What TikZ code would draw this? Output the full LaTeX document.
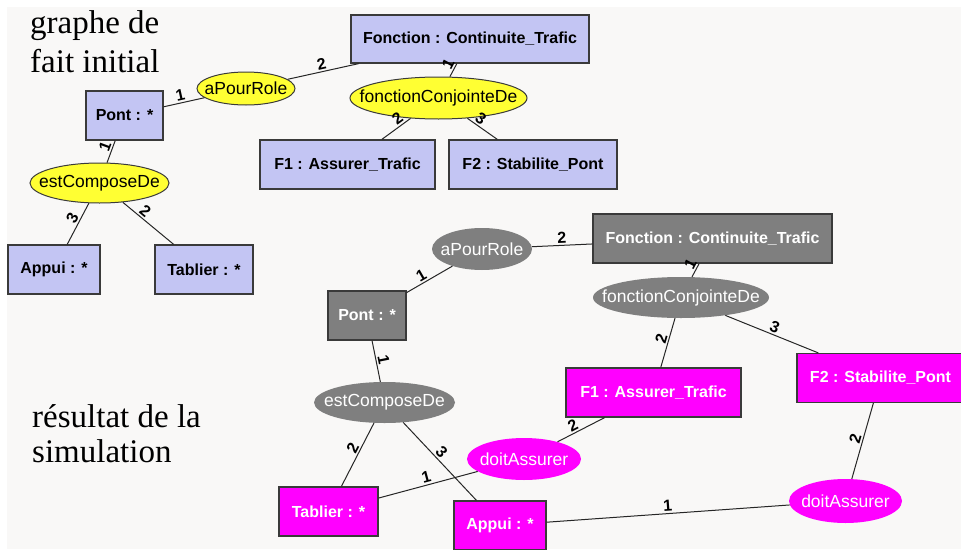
\documentclass[tikz,border=0pt]{standalone}
\usepackage{fontspec}
\setmainfont{Liberation Serif}
\newfontfamily\arialf{Liberation Sans}
\usetikzlibrary{shapes.geometric}
\definecolor{bgc}{HTML}{F9F8F7}
\definecolor{lav}{HTML}{C3C5F3}
\definecolor{bord}{HTML}{3A3A3A}
\definecolor{gry}{HTML}{7F7F7F}
\definecolor{mag}{HTML}{FF00FF}
\definecolor{yel}{HTML}{FFFF33}
\newcommand\ztext[1]{\makebox[0pt]{#1}}
\tikzset{
 boxbase/.style={rectangle, draw=bord, line width=1.2pt, inner sep=0pt, font=\arialf\bfseries\fontsize{16}{18}\selectfont},
 lavbox/.style={boxbase, fill=lav, text=black},
 grybox/.style={boxbase, fill=gry, text=white},
 magbox/.style={boxbase, fill=mag, text=white},
 ellbase/.style={ellipse, inner sep=0pt, font=\arialf\fontsize{17.5}{19}\selectfont},
 yelell/.style={ellbase, fill=yel, draw=bord, line width=1pt, text=black},
 gryell/.style={ellbase, fill=gry, text=white},
 magell/.style={ellbase, fill=mag, text=white},
 conn/.style={draw=black!85, line width=1pt},
 lbl/.style={font=\arialf\bfseries\fontsize{16}{17}\selectfont, inner sep=1.5pt, sloped, above},
 title/.style={font=\fontsize{33}{39}\selectfont, anchor=base west, inner sep=0pt},
}
\begin{document}
\begin{tikzpicture}[x=1pt,y=-1pt]
\clip (0,0) rectangle (961,549);
\fill[white] (0,0) rectangle (961,549);
\fill[bgc] (7,7) rectangle (961,549);
% titles
\node[title] (t1) at (30,33) {graphe de};
\node[title] (t2) at (30,72) {fait initial};
\node[title] (t3) at (32,427) {résultat de la};
\node[title] (t4) at (32,462) {simulation};
% top graph
\node[lavbox, minimum width=77pt, minimum height=49pt] (tPont) at (124.5,115.5) {Pont : *};
\node[yelell, minimum width=98pt, minimum height=33pt] (tApr) at (246,88.5) {\ztext{aPourRole}};
\node[lavbox, minimum width=238pt, minimum height=48pt] (tFonc) at (470,39) {Fonction : Continuite\_Trafic};
\node[yelell, minimum width=177pt, minimum height=42pt] (tFcj) at (438.5,98) {\ztext{fonctionConjointeDe}};
\node[lavbox, minimum width=175pt, minimum height=49pt] (tF1) at (347.5,164.5) {F1 : Assurer\_Trafic};
\node[lavbox, minimum width=168pt, minimum height=49pt] (tF2) at (533,164.5) {F2 : Stabilite\_Pont};
\node[yelell, minimum width=139pt, minimum height=40pt] (tEcd) at (99.5,183) {\ztext{estComposeDe}};
\node[lavbox, minimum width=92pt, minimum height=49pt] (tAppui) at (54,269.5) {Appui : *};
\node[lavbox, minimum width=98pt, minimum height=49pt] (tTablier) at (204,269.5) {Tablier : *};
\draw[conn] (tPont) -- node[lbl, pos=0.45] {1} (tApr);
\draw[conn] (tApr) -- node[lbl, pos=0.5] {2} (tFonc);
\draw[conn] (tFcj) -- node[lbl, pos=0.7] {1} (tFonc);
\draw[conn] (tFcj) -- node[lbl, pos=0.3] {2} (tF1);
\draw[conn] (tFcj) -- node[lbl, pos=0.3] {3} (tF2);
\draw[conn] (tEcd) -- node[lbl, pos=0.6] {1} (tPont);
\draw[conn] (tEcd) -- node[lbl, pos=0.45] {3} (tAppui);
\draw[conn] (tEcd) -- node[lbl, pos=0.35] {2} (tTablier);
% bottom graph
\node[gryell, minimum width=100pt, minimum height=42pt] (bApr) at (482,249) {\ztext{aPourRole}};
\node[grybox, minimum width=239pt, minimum height=49pt] (bFonc) at (712.5,238.5) {Fonction : Continuite\_Trafic};
\node[grybox, minimum width=78pt, minimum height=49pt] (bPont) at (367,315.5) {Pont : *};
\node[gryell, minimum width=176pt, minimum height=41pt] (bFcj) at (681,297.5) {\ztext{fonctionConjointeDe}};
\node[magbox, minimum width=175pt, minimum height=49pt] (bF1) at (653.5,392.5) {F1 : Assurer\_Trafic};
\node[magbox, minimum width=167pt, minimum height=49pt] (bF2) at (880.5,378) {F2 : Stabilite\_Pont};
\node[gryell, minimum width=141pt, minimum height=41pt] (bEcd) at (384.5,402.5) {\ztext{estComposeDe}};
\node[magell, minimum width=114pt, minimum height=42pt] (bDa1) at (524,459) {\ztext{doitAssurer}};
\node[magbox, minimum width=99pt, minimum height=49pt] (bTablier) at (328.5,511.5) {Tablier : *};
\node[magbox, minimum width=92pt, minimum height=49pt] (bAppui) at (500,525.5) {Appui : *};
\node[magell, minimum width=113pt, minimum height=44pt] (bDa2) at (845.5,501) {\ztext{doitAssurer}};
\draw[conn] (bPont) -- node[lbl, pos=0.4] {1} (bApr);
\draw[conn] (bApr) -- node[lbl, pos=0.5] {2} (bFonc);
\draw[conn] (bFcj) -- node[lbl, pos=0.7] {1} (bFonc);
\draw[conn] (bFcj) -- node[lbl, pos=0.45] {2} (bF1);
\draw[conn] (bFcj) -- node[lbl, pos=0.5] {3} (bF2);
\draw[conn] (bPont) -- node[lbl, pos=0.5] {1} (bEcd);
\draw[conn] (bEcd) -- node[lbl, pos=0.45] {2} (bTablier);
\draw[conn] (bEcd) -- node[lbl, pos=0.45] {3} (bAppui);
\draw[conn] (bDa1) -- node[lbl, pos=0.4] {2} (bF1);
\draw[conn] (bDa1) -- node[lbl, pos=0.5] {1} (bTablier);
\draw[conn] (bDa2) -- node[lbl, pos=0.5] {2} (bF2);
\draw[conn] (bDa2) -- node[lbl, pos=0.5] {1} (bAppui);
\end{tikzpicture}
\end{document}
